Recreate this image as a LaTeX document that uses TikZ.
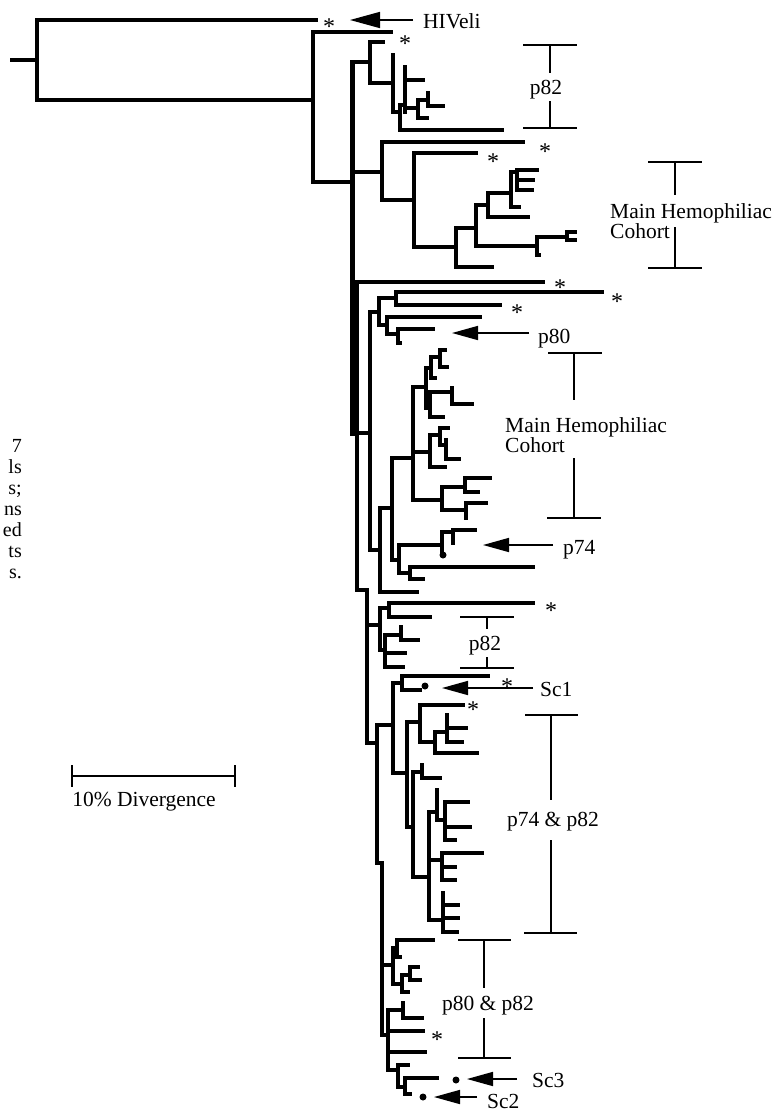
\documentclass[tikz,border=0pt]{standalone}
\usepackage{fontspec}
\setmainfont{Liberation Serif}
\usetikzlibrary{arrows.meta}
\newcommand\lf{\fontsize{21.5}{24}\selectfont}
\tikzset{
  br/.style={line width=3.3pt, line cap=rect, line join=miter},
  brk/.style={line width=1.3pt},
  arr/.style={line width=1.6pt, -{Triangle[length=26pt,width=14pt]}},
  lab/.style={font=\lf, inner sep=0pt},
  stx/.style={font=\fontsize{24}{26}\selectfont, inner sep=0pt, anchor=base},
  dotx/.style={fill=black, circle, inner sep=0pt, minimum size=7pt},
  captx/.style={font=\fontsize{20}{22}\selectfont, inner sep=0pt, anchor=base east}
}
\begin{document}
\begin{tikzpicture}[x=1pt,y=-1pt]
\useasboundingbox (0,0) rectangle (777,1111);
% ---------------- root ----------------
\draw[br] (12,60) -- (37,60);
\draw[br] (316,20) -| (37,100) -- (313,100);
\draw[br] (391,32) -| (313,182) -- (352,182);
% spine
\draw[br, line width=5pt] (352,62) -- (352,433);
\draw[br] (352,62) -- (370,62);
\draw[br] (352,172) -- (382,172);
\draw[br] (352,433) -- (370,433);
% ---------------- p82 clade (top) ----------------
\draw[br] (383,42) -| (370,83) -- (393,83);
\draw[br] (393,55) -- (393,112) -- (400,112);
\draw[br] (405,105) -| (400,130) -- (502,130);
\draw[br, line width=4pt] (405,67) -- (405,112);
\draw[br] (405,80) -- (423,80);
\draw[br] (405,108) -- (418,108);
\draw[br] (428,100) -| (418,118) -- (427,118);
\draw[br] (428,93) -- (428,106) -- (443,106);
% ---------------- Main Hemophiliac clade 1 ----------------
\draw[br] (523,142) -| (382,200) -- (414,200);
\draw[br] (476,153) -| (414,247) -- (456,247);
\draw[br] (476,228) -| (456,267) -- (492,267);
\draw[br] (488,205) -| (476,246) -- (537,246);
\draw[br] (567,237) -| (537,255) -- (539,255);
\draw[br] (575,232) -| (567,240) -- (575,240);
\draw[br] (511,193) -| (488,217) -- (528,217);
\draw[br] (517,172) -| (511,207) -- (519,207);
\draw[br] (537,170) -| (517,190) -- (532,190);
\draw[br] (517,180) -- (533,180);
% ---------------- S2 ----------------
\draw[br] (543,282) -| (357,590) -- (367,590);
\draw[br] (370,312) -- (370,550) -- (380,550);
\draw[br] (370,312) -- (379,312);
\draw[br] (396,298) -| (379,325) -- (387,325);
\draw[br] (602,292) -| (396,305) -- (500,305);
\draw[br] (480,317) -| (387,334) -- (398,334);
\draw[br] (433,329) -| (398,343) -- (400,343);
% lower part of A2
\draw[br] (392,508) -| (380,592) -- (417,592);
\draw[br] (413,458) -| (392,560) -- (399,560);
\draw[br] (442,545) -| (399,573) -- (410,573);
\draw[br] (533,567) -| (410,579) -- (423,579);
\draw[br] (453,532) -| (442,555);
\draw[br] (475,530) -| (453,543);
% Main Hemophiliac clade 2
\draw[br] (426,387) -| (413,500) -- (442,500);
\draw[br] (413,452) -- (430,452);
\draw[br] (431,368) -| (426,408) -- (430,408);
\draw[br] (440,357) -| (431,378) -- (435,378);
\draw[br] (445,350) -| (440,367) -- (447,367);
\draw[br] (452,392) -| (430,417) -- (443,417);
\draw[br] (452,388) -- (452,404) -- (472,404);
\draw[br] (440,435) -| (430,467) -- (445,467);
\draw[br] (448,428) -| (440,445) -- (446,445);
\draw[br] (446,440) -- (446,459) -- (459,459);
\draw[br] (465,487) -| (442,510) -- (466,510);
\draw[br] (490,478) -| (465,492) -- (478,492);
\draw[br] (486,503) -| (466,518);
% ---------------- S3 ----------------
\draw[br] (367,590) -- (367,743) -- (377,743);
\draw[br] (367,625) -- (380,625);
\draw[br] (389,608) -| (380,650) -- (385,650);
\draw[br] (533,603) -| (389,617) -- (430,617);
\draw[br] (401,635) -| (385,667) -- (403,667);
\draw[br] (385,653) -- (405,653);
\draw[br] (401,627) -- (401,640) -- (418,640);
% ---------------- S4 ----------------
\draw[br] (393,725) -| (377,863) -- (382,863);
\draw[br] (402,683) -| (393,773) -- (407,773);
\draw[br] (488,676) -| (402,690) -- (420,690);
\draw[br] (420,722) -| (407,827) -- (413,827);
\draw[br] (463,705) -| (420,742) -- (435,742);
\draw[br] (447,732) -| (435,753) -- (477,753);
\draw[br] (447,715) -- (447,742) -- (462,742);
\draw[br] (447,728) -- (466,728);
\draw[br] (422,772) -| (413,877) -- (429,877);
\draw[br] (422,765) -- (422,778) -- (440,778);
\draw[br, line width=4pt] (437,812) -| (429,920) -- (443,920);
\draw[br] (429,860) -- (442,860);
\draw[br] (437,790) -- (437,820) -- (445,820);
\draw[br] (468,802) -| (445,840) -- (455,840);
\draw[br] (445,827) -- (470,827);
\draw[br] (482,853) -| (442,880) -- (455,880);
\draw[br] (442,867) -- (455,867);
\draw[br] (443,893) -- (443,932) -- (457,932);
\draw[br] (443,905) -- (458,905);
\draw[br] (443,918) -- (458,918);
% ---------------- S5 ----------------
\draw[br] (382,863) -- (382,1035) -- (388,1035);
\draw[br] (382,965) -- (393,965);
\draw[br] (397,948) -| (393,984) -- (402,984);
\draw[br] (433,940) -| (397,957) -- (400,957);
\draw[br] (410,975) -| (402,992) -- (408,992);
\draw[br] (418,967) -| (410,980) -- (420,980);
\draw[br] (403,1010) -| (388,1070) -- (398,1070);
\draw[br] (388,1031) -- (423,1031);
\draw[br] (388,1052) -- (425,1052);
\draw[br] (403,1003) -- (403,1018) -- (422,1018);
\draw[br] (408,1065) -| (398,1087) -- (405,1087);
\draw[br] (437,1078) -| (405,1094) -- (410,1094);
% ---------------- dots ----------------
\node[dotx] (d1) at (425,686) {};
\node[dotx] (d2) at (443,555) {};
\node[dotx] (d3) at (456,1080) {};
\node[dotx] (d4) at (423,1097) {};
% ---------------- stars ----------------
\node[stx] (s1) at (329,34) {*};
\node[stx] (s2) at (405,51) {*};
\node[stx] (s3) at (545,159) {*};
\node[stx] (s4) at (493,169) {*};
\node[stx] (s5) at (560,295) {*};
\node[stx] (s6) at (617,309) {*};
\node[stx] (s7) at (517,320) {*};
\node[stx] (s8) at (551,618) {*};
\node[stx] (s9) at (507,694) {*};
\node[stx] (s10) at (473,717) {*};
\node[stx] (s11) at (437,1047) {*};
% ---------------- arrows and labels ----------------
\node[lab, anchor=base west] (hiv) at (423,28) {HIVeli};
\coordinate (h0) at (413,20); \coordinate (h1) at (350,20);
\draw[arr, -{Triangle[length=30pt,width=16pt]}] (h0) -- (h1);
\node[lab, anchor=base west] (p80) at (538,343) {p80};
\coordinate (p80a) at (529,333); \coordinate (p80b) at (452,333);
\draw[arr] (p80a) -- (p80b);
\node[lab, anchor=base west] (p74) at (563,554) {p74};
\coordinate (p74a) at (553,545); \coordinate (p74b) at (483,545);
\draw[arr] (p74a) -- (p74b);
\node[lab, anchor=base west] (sc1) at (540,696) {Sc1};
\coordinate (sc1a) at (533,688); \coordinate (sc1b) at (442,688);
\draw[arr] (sc1a) -- (sc1b);
\node[lab, anchor=base west] (sc3) at (532,1087) {Sc3};
\coordinate (sc3a) at (517,1079); \coordinate (sc3b) at (467,1079);
\draw[arr] (sc3a) -- (sc3b);
\node[lab, anchor=base west] (sc2) at (487,1108) {Sc2};
\coordinate (sc2a) at (477,1097); \coordinate (sc2b) at (434,1097);
\draw[arr] (sc2a) -- (sc2b);
% ---------------- brackets ----------------
% p82 (top)
\node[lab, anchor=base] (b1) at (546,94) {p82};
\draw[brk] (523,45) -- (577,45) (550,45) -- (550,73);
\draw[brk] (550,101) -- (550,128) (523,128) -- (577,128);
% Main Hemophiliac Cohort 1
\node[lab, anchor=base west] (m1) at (610,218) {Main Hemophiliac};
\node[lab, anchor=base west] (c1) at (610,238) {Cohort};
\draw[brk] (648,162) -- (702,162) (675,162) -- (675,195);
\draw[brk] (675,227) -- (675,268) (648,268) -- (702,268);
% Main Hemophiliac Cohort 2
\node[lab, anchor=base west] (m2) at (505,432) {Main Hemophiliac};
\node[lab, anchor=base west] (c2) at (505,452) {Cohort};
\draw[brk] (548,353) -- (602,353) (574,353) -- (574,400);
\draw[brk] (574,458) -- (574,518) (547,518) -- (601,518);
% p82 (second)
\node[lab, anchor=base] (b2) at (485,650) {p82};
\draw[brk] (460,617) -- (514,617) (487,617) -- (487,629);
\draw[brk] (487,657) -- (487,668) (460,668) -- (514,668);
% p74 & p82
\node[lab, anchor=base] (b3) at (553,826) {p74 \& p82};
\draw[brk] (525,715) -- (578,715) (551,715) -- (551,800);
\draw[brk] (551,840) -- (551,933) (524,933) -- (577,933);
% p80 & p82
\node[lab, anchor=base] (b4) at (488,1010) {p80 \& p82};
\draw[brk] (458,940) -- (511,940) (484,940) -- (484,988);
\draw[brk] (484,1018) -- (484,1058) (458,1058) -- (511,1058);
% ---------------- scale bar ----------------
\draw[brk] (72,765) -- (72,787) (235,765) -- (235,787) (72,776) -- (235,776);
\node[lab, anchor=base] (sb) at (144,806) {10\% Divergence};
% ---------------- clipped caption at left ----------------
\node[captx] (t1) at (22,452) {7};
\node[captx] (t2) at (22,473) {ls};
\node[captx] (t3) at (22,494) {s;};
\node[captx] (t4) at (22,515) {ns};
\node[captx] (t5) at (22,536) {ed};
\node[captx] (t6) at (22,557) {ts};
\node[captx] (t7) at (22,578) {s.};
\end{tikzpicture}
\end{document}
